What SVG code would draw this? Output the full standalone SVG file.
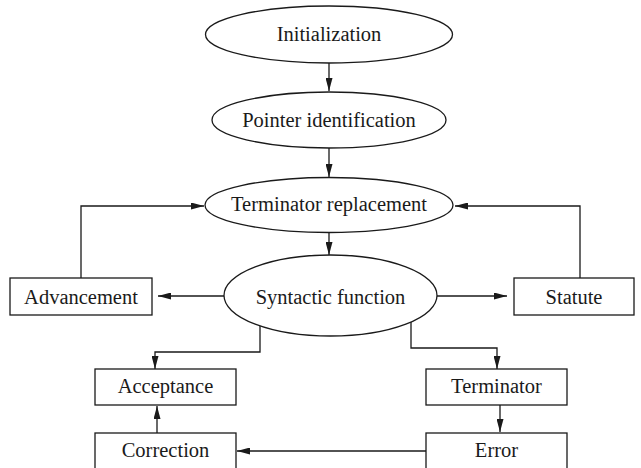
<svg xmlns="http://www.w3.org/2000/svg" width="641" height="468" viewBox="0 0 641 468">
<style>
.n{fill:#fff;stroke:#1a1a1a;stroke-width:1.3}
.t{font-family:"Liberation Serif","Times New Roman",serif;font-size:20.5px;fill:#1a1a1a;text-anchor:middle;dominant-baseline:central}
.c{fill:none;stroke:#1a1a1a;stroke-width:1.3;marker-end:url(#ah)}
</style>
<defs>
<marker id="ah" markerUnits="userSpaceOnUse" markerWidth="13" markerHeight="7" refX="13" refY="3.5" orient="auto">
<path d="M0,0 L13,3.5 L0,7 z" fill="#1a1a1a"/>
</marker>
</defs>
<rect width="641" height="468" fill="#fff"/>
<g id="connectors">
<line class="c" x1="329" y1="63" x2="329" y2="91"/>
<line class="c" x1="329" y1="148" x2="329" y2="177"/>
<line class="c" x1="329" y1="232" x2="329" y2="255"/>
<line class="c" x1="224" y1="296" x2="158" y2="296"/>
<line class="c" x1="437" y1="296" x2="507" y2="296"/>
<polyline class="c" points="81,278 81,206 204,206"/>
<polyline class="c" points="580,278 580,206 455,206"/>
<polyline class="c" points="260,326 260,352 155,352 155,369"/>
<polyline class="c" points="411,322 411,348 497,348 497,369"/>
<line class="c" x1="500" y1="405" x2="500" y2="432"/>
<line class="c" x1="426" y1="451" x2="237" y2="451"/>
<line class="c" x1="157" y1="433" x2="157" y2="406"/>
</g>
<g id="initialization"><ellipse class="n" cx="329" cy="34.5" rx="123.5" ry="28.5"/><text class="t" x="329" y="34">Initialization</text></g>
<g id="pointer-identification"><ellipse class="n" cx="329" cy="120" rx="117" ry="28"/><text class="t" x="329" y="120">Pointer identification</text></g>
<g id="terminator-replacement"><ellipse class="n" cx="329" cy="205" rx="124" ry="27.5"/><text class="t" x="329" y="204">Terminator replacement</text></g>
<g id="syntactic-function"><ellipse class="n" cx="330.5" cy="295.5" rx="106.5" ry="40.5"/><text class="t" x="330.5" y="297">Syntactic function</text></g>
<g id="advancement"><rect class="n" x="10" y="278" width="142" height="37"/><text class="t" x="81" y="297">Advancement</text></g>
<g id="statute"><rect class="n" x="514" y="278" width="120" height="37"/><text class="t" x="574" y="297">Statute</text></g>
<g id="acceptance"><rect class="n" x="95" y="369" width="141" height="36"/><text class="t" x="165.5" y="386">Acceptance</text></g>
<g id="terminator"><rect class="n" x="426" y="369" width="141" height="36"/><text class="t" x="496.5" y="386">Terminator</text></g>
<g id="correction"><rect class="n" x="95" y="433" width="141" height="36"/><text class="t" x="165.5" y="450">Correction</text></g>
<g id="error"><rect class="n" x="426" y="433" width="141" height="36"/><text class="t" x="496.5" y="450">Error</text></g>
</svg>
